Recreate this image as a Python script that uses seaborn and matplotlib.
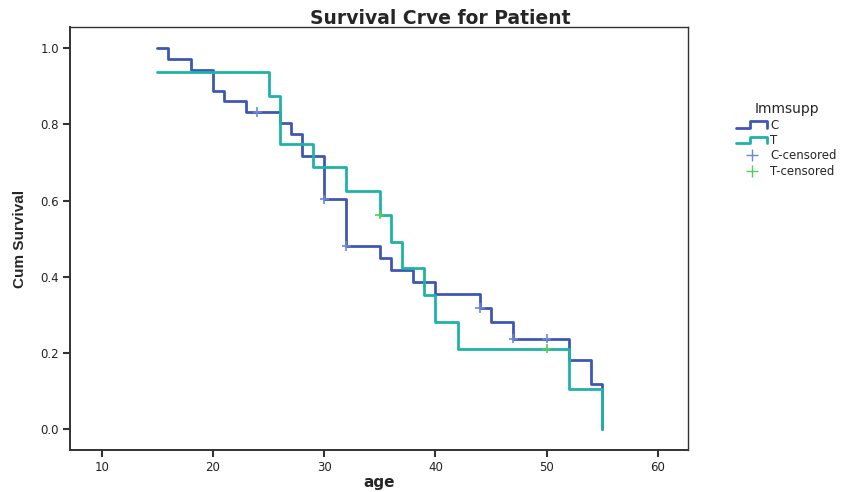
import matplotlib
matplotlib.use("Agg")
import matplotlib.pyplot as plt
from matplotlib.lines import Line2D
from matplotlib.legend_handler import HandlerBase
import seaborn as sns
import pandas as pd
import numpy as np

# ---- data ----
c_age = [15, 16, 18, 20, 21, 23, 26, 27, 28, 30, 32, 35, 36, 38, 40, 44, 45, 47, 52, 54, 55]
c_surv = [1.0, 0.972, 0.944, 0.889, 0.861, 0.833, 0.805, 0.776, 0.718, 0.603, 0.481,
          0.450, 0.419, 0.387, 0.354, 0.318, 0.280, 0.237, 0.181, 0.118, 0.0]
t_age = [15, 25, 26, 29, 32, 35, 36, 37, 39, 40, 42, 52, 55]
t_surv = [0.938, 0.875, 0.750, 0.688, 0.625, 0.563, 0.492, 0.422, 0.352, 0.281, 0.211, 0.105, 0.0]
c_cens_age = [24, 30, 32, 44, 47, 50]
c_cens_surv = [0.833, 0.603, 0.481, 0.318, 0.237, 0.237]
t_cens_age = [35, 50]
t_cens_surv = [0.563, 0.211]
groups = ["C", "T"]
x_ticks = [10, 20, 30, 40, 50, 60]
y_ticks = [0.0, 0.2, 0.4, 0.6, 0.8, 1.0]

blue = "#3f57b3"
teal = "#1fb3a8"
c_cens_col = "#6f86d6"
t_cens_col = "#4fce5a"

steps = pd.DataFrame({
    "age": c_age + t_age,
    "surv": c_surv + t_surv,
    "Immsupp": ["C"] * len(c_age) + ["T"] * len(t_age),
})
cens = pd.DataFrame({
    "age": c_cens_age + t_cens_age,
    "surv": c_cens_surv + t_cens_surv,
    "kind": ["C-censored"] * len(c_cens_age) + ["T-censored"] * len(t_cens_age),
})

sns.set_style("white")
plt.rcParams["font.family"] = ["DejaVu Sans"]

fig = plt.figure(figsize=(8.61, 4.92), dpi=100)
ax = fig.add_axes([70 / 861, 1 - 450 / 492, (688 - 70) / 861, (450 - 27) / 492])

sns.lineplot(data=steps, x="age", y="surv", hue="Immsupp", palette={"C": blue, "T": teal},
             estimator=None, sort=False, drawstyle="steps-post", linewidth=2.0,
             legend=False, ax=ax)
sns.scatterplot(data=cens, x="age", y="surv", hue="kind",
                palette={"C-censored": c_cens_col, "T-censored": t_cens_col},
                marker="+", s=45, linewidth=1.2, legend=False, ax=ax, zorder=5)

ax.set_xlim(7.15, 62.7)
ax.set_ylim(-0.055, 1.056)
ax.set_xticks(x_ticks)
ax.set_yticks(y_ticks)
ax.set_xticklabels([str(v) for v in x_ticks])
ax.set_yticklabels([f"{v:.1f}" for v in y_ticks])
ax.tick_params(axis="both", direction="out", length=5, width=1.5, color="#333333",
               labelsize=8.5, labelcolor="#222222", bottom=True, left=True, pad=3)
for side, sp in ax.spines.items():
    sp.set_visible(True)
    sp.set_color("#333333")
    sp.set_linewidth(1.4 if side in ("left", "bottom") else 1.0)

ax.set_xlabel("age", fontsize=11, fontweight="bold")
ax.xaxis.set_label_coords(0.5, -(483 - 450) / (450 - 27), transform=ax.transAxes)
ax.xaxis.label.set_va("center")
ax.set_ylabel("Cum Survival", fontsize=11, fontweight="bold",
              family=["Liberation Sans Narrow", "Liberation Sans", "DejaVu Sans"])
ax.yaxis.set_label_coords(-(70 - 20) / (688 - 70), 0.5)
ax.yaxis.label.set_va("center")
fig.text(440 / 861, 1 - 18 / 492, "Survival Crve for Patient", ha="center", va="center",
         fontsize=13.5, fontweight="bold")


class StepHandler(HandlerBase):
    def __init__(self, color):
        super().__init__()
        self.color = color

    def create_artists(self, legend, orig_handle, xdescent, ydescent, width, height, fontsize, trans):
        w, h = width, height
        xs = [0, w * 0.45, w * 0.45, w, w]
        ys = [h * 0.1, h * 0.1, h * 0.9, h * 0.9, h * 0.1]
        ln = Line2D(xs, ys, color=self.color, linewidth=2.0, transform=trans)
        return [ln]


h_c = Line2D([], [], color=blue)
h_t = Line2D([], [], color=teal)
h_cc = Line2D([], [], color=c_cens_col, marker="+", linestyle="none", markersize=8)
h_tc = Line2D([], [], color=t_cens_col, marker="+", linestyle="none", markersize=8)
leg = fig.legend([h_c, h_t, h_cc, h_tc], ["C", "T", "C-censored", "T-censored"],
                 handler_map={h_c: StepHandler(blue), h_t: StepHandler(teal)},
                 title="Immsupp", loc="upper left", bbox_to_anchor=(728 / 861, 1 - 94 / 492),
                 frameon=False, fontsize=8.5, title_fontsize=10, handlelength=2.6,
                 handletextpad=0.3, labelspacing=0.2, borderpad=0.2)

fig.savefig("out.png", dpi=100)
